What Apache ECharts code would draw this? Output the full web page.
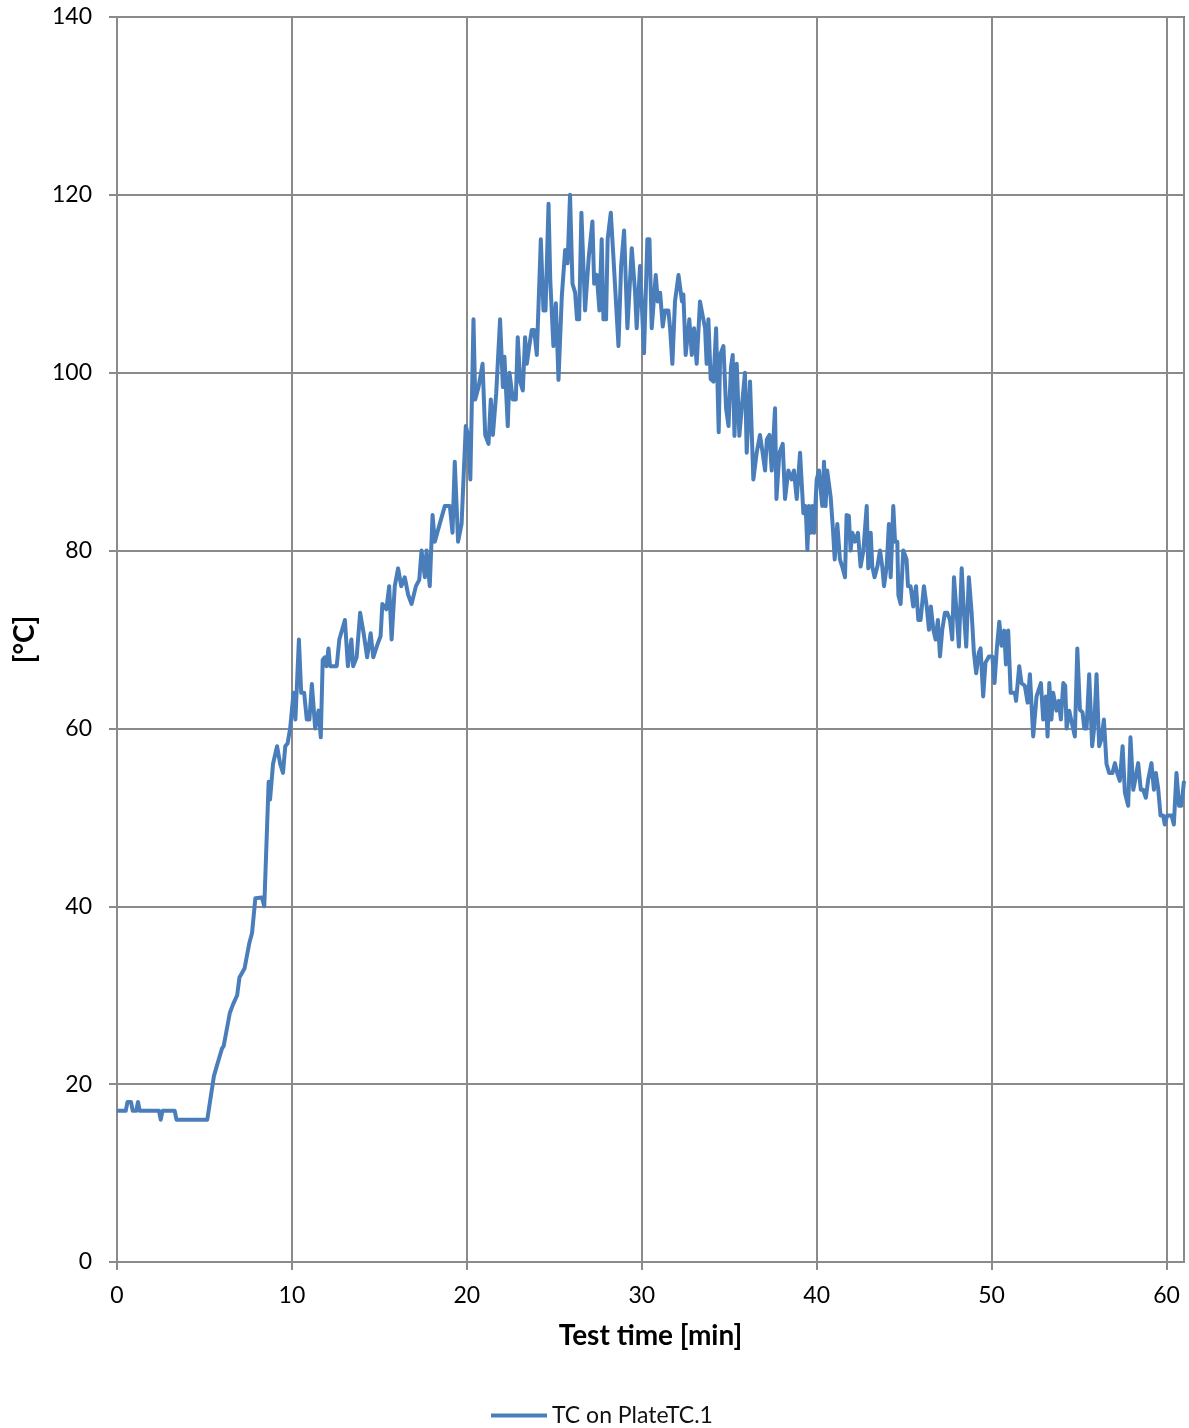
<!DOCTYPE html>
<html>
<head>
<meta charset="utf-8">
<script src="https://cdn.jsdelivr.net/npm/echarts@6/dist/echarts.min.js"></script>
<style>
html,body{margin:0;padding:0;background:#fff;}
#chart{width:1189px;height:1428px;}
</style>
</head>
<body>
<div id="chart"></div>
<script>
// Test time [min]
const times = [
0,0.5,0.6,0.8,0.9,1.1,1.2,1.3,2.4,2.5,2.6,3.3,3.4,5.16,5.54,5.7,5.85,6.0,6.1,6.45,6.64,6.87,7.0,7.29,7.4,7.57,7.72,7.91,8.29,8.42,8.67,8.75,8.92,9.15,9.33,9.49,9.62,9.75,9.9,10.09,10.2,10.4,10.53,10.7,10.85,11.0,11.14,11.33,11.52,11.65,11.76,11.88,11.97,12.09,12.18,12.56,12.71,
13.03,13.2,13.4,13.5,13.7,13.9,14.1,14.3,14.5,14.65,14.9,15.07,15.17,15.4,15.56,15.7,15.88,16.07,16.25,16.45,16.65,16.84,17.09,17.28,17.41,17.6,17.7,17.88,18.04,18.17,18.45,18.74,19.03,19.18,19.31,19.5,19.7,19.94,20.07,20.2,
20.38,20.48,20.67,20.9,21.05,21.24,21.37,21.49,21.68,21.9,22.06,22.15,22.34,22.44,22.63,22.8,22.91,23.05,23.2,23.33,23.43,23.57,23.71,23.85,24.0,24.23,24.38,24.5,24.67,24.77,24.95,25.09,25.24,25.43,25.62,25.76,25.9,26.04,26.19,26.3,26.42,26.55,26.76,26.97,27.18,27.28,27.43,27.58,27.71,27.81,27.96,28.05,28.23,28.38,28.67,28.82,28.99,29.18,29.43,29.62,29.71,29.9,
30.13,30.32,30.44,30.57,30.8,30.92,31.05,31.2,31.33,31.52,31.62,31.75,31.9,32.1,32.2,32.3,32.38,32.51,32.72,32.86,32.99,33.14,33.33,33.43,33.62,33.71,33.81,33.94,34.1,34.25,34.4,34.48,34.67,34.82,34.96,35.1,35.2,35.3,35.43,35.58,35.71,35.9,36.0,36.19,36.38,36.57,36.76,36.91,37.05,37.15,37.3,37.43,37.62,37.7,37.87,38.06,38.19,38.38,38.57,38.7,38.86,39.05,39.24,39.37,39.47,39.56,39.66,39.75,39.85,
40.0,40.13,40.22,40.32,40.42,40.51,40.6,40.8,40.93,41.03,41.18,41.33,41.46,41.62,41.71,41.84,41.94,42.04,42.19,42.36,42.51,42.67,42.86,42.95,43.09,43.18,43.31,43.47,43.62,43.75,43.85,44.0,44.13,44.23,44.38,44.48,44.61,44.67,44.8,44.95,45.14,45.22,45.37,45.52,45.68,45.81,45.94,46.13,46.29,46.42,46.53,46.67,46.8,46.93,47.05,47.18,47.33,47.47,47.62,47.75,47.85,48.0,48.13,48.29,48.42,48.55,48.7,48.86,48.99,49.12,49.27,49.37,49.52,49.65,49.85,
50.04,50.17,50.3,50.44,50.57,50.72,50.82,50.95,51.09,51.33,51.4,51.58,51.71,51.9,52.06,52.19,52.38,52.57,52.82,52.95,53.1,53.2,53.3,53.42,53.52,53.71,53.84,53.96,54.1,54.21,54.29,54.44,54.57,54.76,54.9,55.05,55.2,55.3,55.43,55.58,55.75,55.86,56.0,56.15,56.28,56.42,56.57,56.72,56.91,57.05,57.18,57.33,57.49,57.62,57.81,57.94,58.1,58.25,58.38,58.53,58.67,58.82,58.95,59.14,59.28,59.39,59.52,59.66,59.81,59.9,60.04,60.29,60.42,60.57,60.72,60.85,61.0
];
// TC on PlateTC.1 [°C]
const temps = [
17,17,18,18,17,17,18,17,17,16,17,17,16,16,20.9,22,23,24,24.3,28,29,30,32,33,33.2,35.9,37,40.9,41,40,54,52,56,58,56,55,58,58.3,60,64,61,70,64,64,61,61,65,60,62,59,67.7,68,67,69,67,67,70,
72.2,67,70,67,68,73,70.7,68,70.7,68,69.5,70.4,74,73.4,76,70,76,78,76,77,75,74,76,76.7,80,77,80,76,84,81,83,85,85,82,90,81,83,94,93,88,
106,97,98.4,101,93,92,97,93,97.7,106,98.4,101.8,94,100,97,97,104,99,98,104,101,103,104.8,104.8,102,115,107,107,119,110.4,103,107.8,99.2,108.6,113.8,112.3,120,110,109,106,106,118,107,113,117,110,111,107,115,106,106,115,118,113,103,112,116,105,114,109,105,112,
102.2,115,115,105,111,108,109,105.2,107,107,105,101,108,111,111,108,108.8,102,106,102,105,101,108,108,105,101,106,99.3,99,105,93.3,102,103,96,94,100.6,102,92.9,101,92.9,95.9,100,91,99,88,91,93,91,89,92.5,93,89,96,85.8,91,92,85.8,89,88,89,85.8,91,84.2,85,80.1,85,82,85,82,
88,89,87,85,90,85,89,86,82.4,79,83,79,78.2,77,84,83.9,80,82,81,82,78.2,80,85,78,82,78.2,77,78.2,80,78.2,76,78.2,83,77,85,81,81,75,74,80,79,76,76,73.7,76,72.2,72.2,76,73.7,71.1,73.7,71.1,70,72.2,68.1,71.1,73,73,72.2,70,77,73,69.2,78,73,69.2,77,73,68.5,66.2,68.5,69,63.6,67.4,68.1,
68.1,65.1,69,72,69.3,71,67.2,71,64,64,63.1,67,65.1,64.8,62.9,66.1,59.1,63.6,65.1,61,63.6,59.1,65.1,61,64,62,63.1,61,65.1,64.8,60,62,60.8,59.1,69,62.1,61.8,60,60,66.1,58,60,66.1,58,58.8,61,56,55,55,56.1,55,54.1,58,52.8,51.3,59,53.1,54.6,56.1,53.1,53.1,52.2,54.2,56.1,53.1,55,53.3,50.2,50.2,49.2,50.2,50.2,49.2,55,51.3,51.3,54.1
];
const seriesName = 'TC on PlateTC.1';
const xTitle = 'Test time [min]';
const yTitle = '[°C]';

const FONT = 'Lato, "Open Sans", sans-serif';
const data = times.map((t, i) => [t, temps[i]]);
const gridGray = '#8a8a8a';

const chart = echarts.init(document.getElementById('chart'));
chart.setOption({
  animation: false,
  backgroundColor: '#fff',
  textStyle: { fontFamily: FONT },
  grid: { left: 117, right: 5, top: 17, bottom: 166, show: true, borderColor: '#000', borderWidth: 1.5, backgroundColor: 'transparent' },
  legend: {
    data: [seriesName], left: 486, top: 1399, icon: 'rect', itemWidth: 56, itemHeight: 4,
    textStyle: { fontFamily: FONT, fontSize: 23, color: '#111' }
  },
  xAxis: [{
    type: 'value', min: 0, max: 61, interval: 10,
    name: xTitle, nameLocation: 'middle', nameGap: 60,
    nameTextStyle: { fontFamily: FONT, fontSize: 28, fontWeight: 'bold', color: '#000' },
    axisLine: { show: true, lineStyle: { color: gridGray, width: 2 } },
    axisTick: { show: true, inside: false, length: 8, lineStyle: { color: gridGray, width: 2 } },
    axisLabel: { fontFamily: FONT, fontSize: 23, color: '#000', margin: 22, showMaxLabel: false,
      formatter: v => (v % 10 === 0 ? String(v) : '') },
    splitLine: { show: true, lineStyle: { color: gridGray, width: 2 } }
  }],
  yAxis: [{
    type: 'value', min: 0, max: 140, interval: 20,
    name: yTitle, nameLocation: 'middle', nameGap: 78, nameRotate: 90,
    nameTextStyle: { fontFamily: FONT, fontSize: 28, fontWeight: 'bold', color: '#000' },
    axisLine: { show: true, lineStyle: { color: gridGray, width: 2 } },
    axisTick: { show: true, inside: false, length: 8, lineStyle: { color: gridGray, width: 2 } },
    axisLabel: { fontFamily: FONT, fontSize: 23, color: '#000', margin: 25 },
    splitLine: { show: true, lineStyle: { color: gridGray, width: 2 } }
  }],
  series: [{
    name: seriesName, type: 'line', data: data, showSymbol: false, symbol: 'none',
    lineStyle: { color: '#4a7ebb', width: 4, join: 'round' },
    itemStyle: { color: '#4a7ebb' }, z: 5
  }]
});
</script>
</body>
</html>
